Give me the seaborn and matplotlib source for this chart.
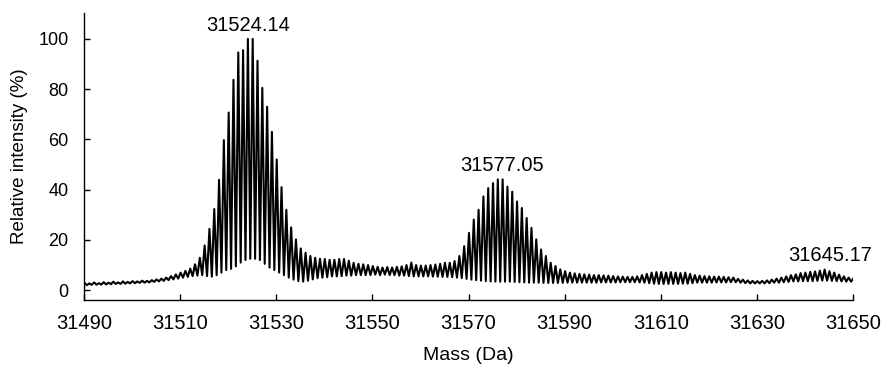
import numpy as np
import pandas as pd
import matplotlib
matplotlib.use("Agg")
import matplotlib.pyplot as plt
import seaborn as sns

# ---------------- data ----------------
isotope_first_mass = 31490.1   # mass of first isotope peak in window (Da)
isotope_spacing = 1.0          # Da between isotope peaks

peak_intensity = [
    2.9, 2.7, 3.1, 2.8, 3.2, 3.0, 3.4, 3.1, 3.5, 3.3,          # 31490-31499
    3.6, 3.5, 3.8, 3.7, 4.0, 4.3, 4.6, 5.0, 5.6, 6.3,          # 31500-31509
    7.0, 7.7, 8.6, 10.3, 12.9, 17.8, 24.4, 32.3, 43.9, 59.7,   # 31510-31519
    70.7, 83.7, 94.6, 95.5, 100.0, 100.0, 91.3, 80.5, 73.0, 63.0,  # 31520-31529
    52.0, 41.0, 32.0, 25.0, 20.2, 16.6, 14.9, 13.6, 12.9, 12.5,    # 31530-31539
    12.4, 12.1, 12.1, 12.4, 12.4, 11.7, 10.9, 10.5, 10.3, 10.0,    # 31540-31549
    9.6, 9.3, 9.0, 9.2, 9.0, 9.3, 9.5, 10.0, 11.0, 10.0,           # 31550-31559
    9.8, 9.8, 10.0, 10.2, 10.5, 10.9, 10.9, 11.6, 13.6, 17.5,      # 31560-31569
    22.8, 28.1, 32.0, 37.3, 40.6, 42.6, 44.1, 44.1, 41.2, 39.2,    # 31570-31579
    35.3, 32.7, 28.7, 24.8, 20.2, 16.2, 13.6, 10.9, 9.6, 8.3,      # 31580-31589
    7.6, 7.0, 6.7, 6.5, 6.3, 6.2, 6.0, 6.0, 5.9, 5.8,              # 31590-31599
    5.6, 5.5, 5.4, 5.3, 5.3, 5.5, 6.0, 6.5, 7.0, 7.2,              # 31600-31609
    7.2, 7.0, 7.2, 7.0, 6.8, 7.0, 6.5, 6.0, 5.8, 5.6,              # 31610-31619
    5.5, 5.4, 5.4, 5.3, 5.2, 5.0, 4.5, 4.2, 3.9, 3.7,              # 31620-31629
    3.6, 3.7, 3.9, 4.2, 4.6, 5.0, 5.5, 6.0, 6.3, 6.8,              # 31630-31639
    7.0, 7.3, 7.5, 7.8, 8.2, 7.6, 7.0, 6.2, 5.5, 5.0,              # 31640-31649
    4.8,                                                           # 31650
]
valley_intensity = [
    2.0, 2.1, 2.2, 2.2, 2.3, 2.4, 2.5, 2.5, 2.6, 2.7,
    2.8, 2.9, 3.0, 3.1, 3.3, 3.5, 3.7, 4.0, 4.3, 4.6,
    5.0, 5.3, 5.6, 5.8, 6.0, 5.6, 5.4, 6.0, 7.0, 8.0,
    8.5, 9.5, 11.0, 12.0, 12.5, 12.5, 12.0, 10.5, 9.0, 8.0,
    7.0, 6.0, 5.0, 4.2, 3.6, 3.4, 3.8, 4.3, 4.8, 5.0,
    5.2, 5.5, 5.5, 5.6, 5.8, 5.8, 6.0, 6.0, 6.0, 6.0,
    6.2, 6.0, 6.2, 6.0, 6.0, 5.8, 5.8, 5.6, 5.5, 5.5,
    5.5, 5.5, 5.4, 5.4, 5.3, 5.3, 5.2, 5.0, 4.8, 4.5,
    4.2, 4.0, 3.8, 3.6, 3.5, 3.4, 3.4, 3.4, 3.4, 3.3,
    3.2, 3.1, 3.0, 3.0, 3.0, 2.9, 2.9, 2.9, 2.9, 2.9,
    3.0, 3.0, 3.0, 3.0, 3.0, 3.0, 3.0, 3.1, 3.1, 3.1,
    3.1, 3.2, 3.2, 3.2, 3.2, 3.1, 3.0, 2.8, 2.6, 2.5,
    2.5, 2.5, 2.5, 2.5, 2.6, 2.6, 2.8, 3.0, 3.0, 3.0,
    3.0, 3.1, 3.1, 3.1, 3.2, 3.2, 3.0, 2.8, 2.7, 2.7,
    2.7, 2.7, 2.8, 3.0, 3.0, 3.2, 3.3, 3.5, 3.5, 3.6,
    3.6, 3.6, 3.7, 3.8, 3.8, 3.7, 3.6, 3.5, 3.4, 3.4,
]

label_masses = [31524.14, 31577.05, 31645.17]
label_heights = [100.0, 44.1, 8.2]

x_ticks = [31490, 31510, 31530, 31550, 31570, 31590, 31610, 31630, 31650]
y_ticks = [0, 20, 40, 60, 80, 100]

x_label = "Mass (Da)"
y_label = "Relative intensity (%)"

# ---------------- build the spectrum trace ----------------
peak_mass = isotope_first_mass + isotope_spacing * np.arange(len(peak_intensity))
valley_mass = peak_mass[:len(valley_intensity)] + isotope_spacing / 2
df = pd.DataFrame({
    "mass": np.concatenate([peak_mass, valley_mass]),
    "intensity": np.concatenate([peak_intensity, valley_intensity]),
}).sort_values("mass").reset_index(drop=True)

# ---------------- style ----------------
sns.set_style("ticks")
plt.rcParams["font.family"] = ["Liberation Sans", "DejaVu Sans"]

fig = plt.figure(figsize=(8.82, 3.65), dpi=100)
ax = fig.add_axes([84 / 882, 1 - 300 / 365, (853 - 84) / 882, (300 - 13) / 365])

sns.lineplot(data=df, x="mass", y="intensity", color="black", linewidth=1.5,
             estimator=None, ax=ax)

for m, h in zip(label_masses, label_heights):
    ax.annotate(f"{m:.2f}", xy=(m, h), xytext=(0, 3), textcoords="offset points",
                ha="center", va="bottom", fontsize=14.5, color="black")

ax.set_xlim(31490, 31650)
ax.set_ylim(-3.9, 110.3)
ax.set_xticks(x_ticks)
ax.set_yticks(y_ticks)
ax.set_xlabel(x_label, fontsize=14, labelpad=10, color="black")
ax.set_ylabel(y_label, fontsize=13.5, labelpad=7.5, color="black")
ax.tick_params(axis="both", direction="in", length=4, width=1,
               color="black", labelcolor="black", pad=11)
ax.tick_params(axis="x", labelsize=14.5, pad=10)
ax.tick_params(axis="y", labelsize=13)
sns.despine(ax=ax)
for s in ("left", "bottom"):
    ax.spines[s].set_color("black")
    ax.spines[s].set_linewidth(1)

fig.savefig("out.png", dpi=100)
